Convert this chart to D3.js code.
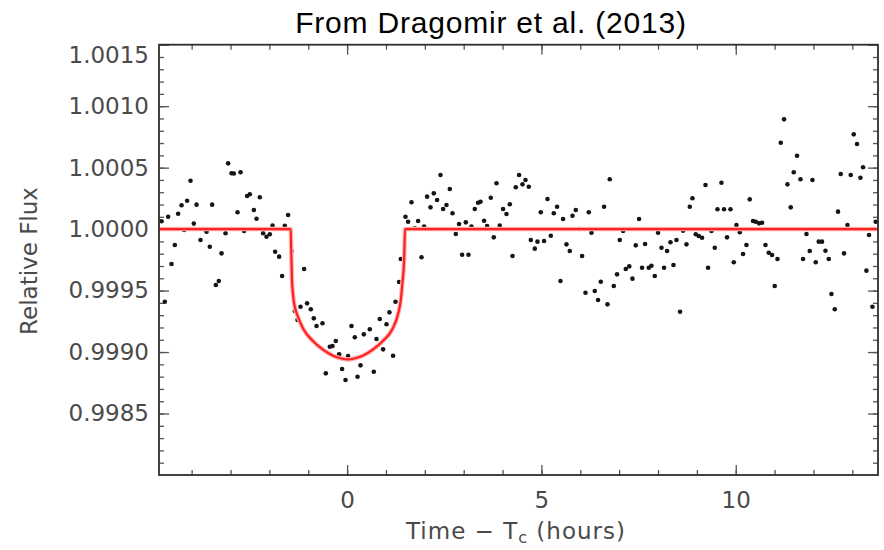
<!DOCTYPE html>
<html>
<head>
<meta charset="utf-8">
<script src="https://cdn.jsdelivr.net/npm/d3@7"></script>
<style>
  html, body { margin: 0; padding: 0; background: #fff; }
  svg { display: block; }
</style>
</head>
<body>
<svg id="chart" width="884" height="550"></svg>
<script>
// ---------------- DATA ----------------
const titleText = "From Dragomir et al. (2013)";
const xLabel = "Time − T";
const xLabelSub = "c";
const xLabelTail = " (hours)";
const yLabel = "Relative Flux";

const xDomain = [-4.84, 13.66];
const yDomain = [0.9980, 1.0015];
const xMajorTicks = [0, 5, 10];
const xMinorTicks = [-4,-3,-2,-1,0,1,2,3,4,5,6,7,8,9,10,11,12,13];
const yMajorTicks = [0.9985, 0.9990, 0.9995, 1.0000, 1.0005, 1.0010, 1.0015];
const yMinorTicks = [0.9981,0.9982,0.9983,0.9984,0.9985,0.9986,0.9987,0.9988,0.9989,0.9990,
  0.9991,0.9992,0.9993,0.9994,0.9995,0.9996,0.9997,0.9998,0.9999,1.0000,
  1.0001,1.0002,1.0003,1.0004,1.0005,1.0006,1.0007,1.0008,1.0009,1.0010,
  1.0011,1.0012,1.0013,1.0014];

// observed light curve (time in hours from mid-transit, relative flux)
const obsTime = [
 -4.775,-4.690,-4.605,-4.518,-4.433,-4.348,-4.260,-4.193,-4.116,-4.029,
 -3.944,-3.874,-3.772,-3.705,-3.617,-3.532,-3.473,-3.378,-3.301,-3.231,
 -3.128,-3.061,-2.974,-2.915,-2.820,-2.742,-2.650,-2.573,-2.503,-2.400,
 -2.331,-2.246,-2.161,-2.074,-1.989,-1.919,-1.852,-1.749,-1.672,-1.603,
 -1.518,-1.430,-1.346,-1.276,-1.199,-1.106,-1.029,-0.934,-0.857,-0.787,
 -0.633,-0.548,-0.445,-0.376,-0.291,-0.206,-0.129,-0.041,0.026,0.113,
 0.198,0.268,0.345,0.430,0.584,0.687,0.756,0.841,0.926,1.014,
 1.088,1.183,1.245,1.338,1.382,1.502,1.569,1.657,1.742,1.827,
 1.914,1.981,2.058,2.146,2.231,2.315,2.403,2.470,2.557,2.642,
 2.712,2.797,2.881,2.959,3.054,3.123,3.200,3.285,3.370,3.432,
 3.525,3.602,3.697,3.774,3.844,3.928,4.013,4.101,4.186,4.255,
 4.340,4.425,4.513,4.590,4.675,4.726,4.829,4.898,4.983,5.068,
 5.156,5.241,5.318,5.403,5.490,5.557,5.644,5.729,5.799,5.884,
 5.969,6.046,6.133,6.218,6.288,6.373,6.457,6.527,6.612,6.699,
 6.758,6.861,6.946,7.016,7.101,7.170,7.260,7.342,7.427,7.512,
 7.589,7.667,7.762,7.831,7.916,8.001,8.089,8.155,8.233,8.320,
 8.397,8.474,8.567,8.644,8.732,8.817,8.886,8.971,9.048,9.133,
 9.221,9.287,9.375,9.460,9.529,9.632,9.699,9.776,9.864,9.949,
 10.018,10.103,10.188,10.275,10.360,10.445,10.515,10.599,10.677,10.764,
 10.849,10.934,11.003,11.073,11.158,11.243,11.330,11.415,11.492,11.577,
 11.665,11.731,11.819,11.904,11.973,12.058,12.135,12.220,12.308,12.393,
 12.462,12.547,12.632,12.701,12.786,12.874,12.959,13.036,13.121,13.208,
 13.275,13.362,13.429,13.517,13.602
];
const obsFlux = [
 1.000064,0.999409,1.000101,0.999716,0.999871,1.000125,1.000194,0.999993,1.000231,1.000393,
 1.000045,1.000199,0.999911,1.000001,0.999979,0.999857,1.000199,0.999545,0.999578,0.999803,
 0.999966,1.000535,1.000454,1.000452,1.000137,1.000462,0.999985,1.000269,1.000283,1.000155,
 1.000084,1.000259,0.999966,0.999938,0.999958,1.000028,0.999816,0.999776,0.999619,1.000027,
 1.000115,0.999822,0.999334,0.999261,0.999369,0.999675,0.999396,0.999348,0.999274,0.999212,
 0.999234,0.998827,0.999043,0.999049,0.999090,0.998982,0.998862,0.998773,0.998968,0.999212,
 0.999120,0.998799,0.998892,0.999144,0.999185,0.998840,0.999106,0.999269,0.999022,0.999226,
 0.999323,0.998970,0.999409,0.999570,0.999757,1.000101,1.000060,1.000218,1.000007,1.000066,
 0.999771,1.000020,1.000264,1.000177,1.000291,1.000237,1.000440,1.000163,1.000196,1.000326,
 1.000129,0.999960,1.000041,0.999792,1.000055,0.999792,1.000020,1.000163,1.000215,1.000223,
 1.000068,1.000025,1.000255,0.999933,1.000373,1.000028,1.000163,1.000123,1.000202,0.999781,
 1.000340,1.000440,1.000364,1.000399,1.000345,0.999911,0.999841,0.999898,1.000137,0.999903,
 1.000245,0.999946,1.000129,1.000182,0.999578,1.000082,0.999876,0.999822,1.000109,1.000155,
 1.000001,0.999781,0.999483,1.000137,0.999971,0.999497,0.999423,0.999572,1.000182,0.999388,
 1.000405,0.999537,0.999632,0.999911,0.999985,0.999675,0.999697,0.999597,0.999868,1.000082,
 0.999686,0.999879,0.999686,0.999702,0.999619,0.999971,0.999849,0.999686,0.999822,0.999893,
 0.999708,0.999911,0.999328,0.999987,0.999876,1.000182,1.000251,0.999958,0.999944,0.999930,
 1.000359,0.999686,0.999985,0.999849,1.000161,1.000377,1.000161,0.999933,1.000161,0.999730,
 1.000033,0.999974,0.999797,0.999871,1.000242,1.000066,1.000060,1.000047,1.000052,0.999871,
 0.999808,0.999789,0.999537,0.999757,1.000703,1.000893,1.000364,1.000177,1.000462,1.000597,
 1.000405,0.999757,0.999960,0.999822,1.000399,0.999730,0.999898,0.999898,0.999824,0.999757,
 0.999472,0.999348,1.000142,1.000448,0.999803,1.000033,1.000440,1.000771,1.000692,1.000418,
 1.000503,0.999662,0.999952,0.999369,1.000060
];

// transit model curve
const modelTime = [-4.84,-1.45,-1.44,-1.42,-1.39,-1.34,-1.28,-1.13,-0.88,-0.62,-0.36,-0.17,0.02,
                   0.21,0.40,0.66,0.92,1.17,1.32,1.38,1.42,1.47,1.49,13.66];
const modelFlux = [1.0,1.0,0.99985,0.99960,0.99946,0.99936,0.99930,0.99919,0.99909,0.99902,0.99897,0.99895,0.99894,
                   0.99895,0.99897,0.99902,0.99909,0.99919,0.99932,0.99942,0.99955,0.99978,1.0,1.0];

// ---------------- DRAW ----------------
const svg = d3.select("#chart");
const L = 159, R = 878, T = 44.7, B = 475;
const x = d3.scaleLinear().domain(xDomain).range([L, R]);
const y = d3.scaleLinear().domain(yDomain).range([B, T]);

const tickFont = "'DejaVu Sans', sans-serif";
const textColor = "#4a4a4a";
const tickColor = "#555";

// title
svg.append("text")
  .attr("x", 491).attr("y", 33)
  .attr("text-anchor", "middle")
  .attr("font-family", "'Liberation Sans', Arial, sans-serif")
  .attr("font-size", 30)
  .attr("letter-spacing", 0.8)
  .attr("fill", "#000")
  .text(titleText);

function styleAxis(g, showLabels) {
  g.select(".domain").remove();
  g.selectAll(".tick line").attr("stroke", tickColor).attr("stroke-width", 1.3);
  g.selectAll(".tick text")
    .attr("font-family", tickFont)
    .attr("font-size", 23)
    .attr("fill", textColor);
  if (!showLabels) g.selectAll(".tick text").remove();
}

// minor ticks
svg.append("g").attr("transform", `translate(${L},0)`)
  .call(d3.axisLeft(y).tickValues(yMinorTicks).tickSize(-5).tickFormat(""))
  .call(g => styleAxis(g, false));
svg.append("g").attr("transform", `translate(${R},0)`)
  .call(d3.axisRight(y).tickValues(yMinorTicks).tickSize(-5).tickFormat(""))
  .call(g => styleAxis(g, false));
svg.append("g").attr("transform", `translate(0,${B})`)
  .call(d3.axisBottom(x).tickValues(xMinorTicks).tickSize(-5).tickFormat(""))
  .call(g => styleAxis(g, false));
svg.append("g").attr("transform", `translate(0,${T})`)
  .call(d3.axisTop(x).tickValues(xMinorTicks).tickSize(-5).tickFormat(""))
  .call(g => styleAxis(g, false));

// major ticks
const yLeft = svg.append("g").attr("transform", `translate(${L},0)`)
  .call(d3.axisLeft(y).tickValues(yMajorTicks).tickSize(-10).tickPadding(10).tickFormat(d3.format(".4f")))
  .call(g => styleAxis(g, true));
yLeft.selectAll(".tick text").filter(d => d === 1.0015).attr("dy", "0.32em").attr("y", 10);

svg.append("g").attr("transform", `translate(${R},0)`)
  .call(d3.axisRight(y).tickValues(yMajorTicks).tickSize(-10).tickFormat(""))
  .call(g => styleAxis(g, false));
svg.append("g").attr("transform", `translate(0,${B})`)
  .call(d3.axisBottom(x).tickValues(xMajorTicks).tickSize(-10).tickPadding(17).tickFormat(d3.format("d")))
  .call(g => styleAxis(g, true));
svg.append("g").attr("transform", `translate(0,${T})`)
  .call(d3.axisTop(x).tickValues(xMajorTicks).tickSize(-10).tickFormat(""))
  .call(g => styleAxis(g, false));

// data points
svg.append("g").selectAll("circle")
  .data(obsTime.map((t, i) => [t, obsFlux[i]]))
  .join("circle")
  .attr("cx", d => x(d[0]))
  .attr("cy", d => y(d[1]))
  .attr("r", 2.3)
  .attr("fill", "#151515");

// model line
const line = d3.line().x(d => x(d[0])).y(d => y(d[1])).curve(d3.curveMonotoneX);
const model = modelTime.map((t, i) => [t, modelFlux[i]]);
svg.append("path").datum(model).attr("d", line)
  .attr("fill", "none").attr("stroke", "#ffb4b4").attr("stroke-width", 4.5);
svg.append("path").datum(model).attr("d", line)
  .attr("fill", "none").attr("stroke", "#ff2020").attr("stroke-width", 2.2);

// frame
svg.append("rect")
  .attr("x", L).attr("y", T).attr("width", R - L).attr("height", B - T)
  .attr("fill", "none").attr("stroke", "#2e2e2e").attr("stroke-width", 1.8);

// axis titles
const xt = svg.append("text")
  .attr("x", 516).attr("y", 539)
  .attr("text-anchor", "middle")
  .attr("font-family", tickFont)
  .attr("font-size", 23)
  .attr("letter-spacing", 1)
  .attr("fill", textColor);
xt.append("tspan").text(xLabel);
xt.append("tspan").attr("dy", 4).attr("font-size", 16).text(xLabelSub);
xt.append("tspan").attr("dy", -4).text(xLabelTail);

svg.append("text")
  .attr("transform", "translate(37,261) rotate(-90)")
  .attr("text-anchor", "middle")
  .attr("font-family", tickFont)
  .attr("font-size", 23)
  .attr("fill", textColor)
  .text(yLabel);
</script>
</body>
</html>
